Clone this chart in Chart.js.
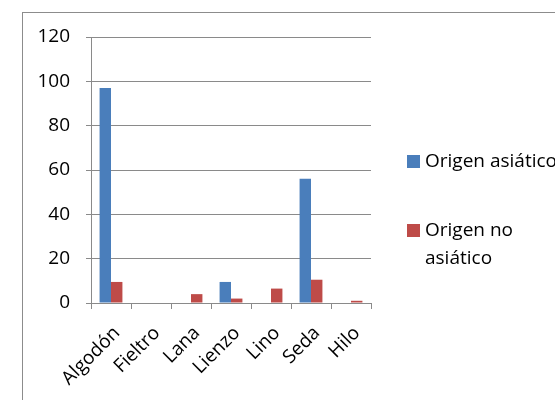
<!DOCTYPE html>
<html>
<head>
<meta charset="utf-8">
<script src="https://cdn.jsdelivr.net/npm/chart.js@4"></script>
<style>
    html, body { margin: 0; padding: 0; background: #fff; }
    body { width: 555px; height: 400px; position: relative; overflow: hidden; font-family: 'Open Sans', sans-serif; }
    #frame { position: absolute; left: 22px; top: 12px; width: 600px; height: 450px; border: 1px solid #8c8c8c; box-sizing: border-box; }
    #chart { position: absolute; left: 0; top: 0; }
    #legend { position: absolute; left: 407px; top: 146px; font-size: 19px; color: #000; }
    .legend-item { display: flex; align-items: flex-start; margin-bottom: 41px; }
    .legend-box { width: 13px; height: 13px; margin: 9px 5px 0 0; flex: none; }
    .legend-text { line-height: 28px; width: 118px; }
    .legend-item.nowrap .legend-text { white-space: nowrap; }
</style>
</head>
<body>
<div id="frame"></div>
<canvas id="chart" width="555" height="400"></canvas>
<div id="legend"></div>
<script>
// Fibras textiles por origen
const categories = ['Algodón', 'Fieltro', 'Lana', 'Lienzo', 'Lino', 'Seda', 'Hilo'];
const seriesNames = ['Origen asiático', 'Origen no asiático'];
const origenAsiatico = [97, 0, 0, 9.5, 0, 56, 0];
const origenNoAsiatico = [9.5, 0, 4, 2, 6.5, 10.5, 1];
const yTicks = [0, 20, 40, 60, 80, 100, 120];

const colors = ['#4a7ebb', '#be4b48'];
const axisGray = '#8a8a8a';
const font = { family: "'Open Sans', sans-serif", size: 19 };

// Build the HTML legend (Excel wraps the long label)
const legend = document.getElementById('legend');
seriesNames.forEach((name, i) => {
    const item = document.createElement('div');
    item.className = 'legend-item' + (i === 0 ? ' nowrap' : '');
    item.innerHTML = `<span class="legend-box" style="background:${colors[i]}"></span><span class="legend-text">${name}</span>`;
    legend.appendChild(item);
});

const ctx = document.getElementById('chart').getContext('2d');
new Chart(ctx, {
    type: 'bar',
    data: {
        labels: categories,
        datasets: [
            { label: seriesNames[0], data: origenAsiatico, backgroundColor: colors[0] },
            { label: seriesNames[1], data: origenNoAsiatico, backgroundColor: colors[1] }
        ]
    },
    options: {
        responsive: false,
        animation: false,
        layout: { padding: { left: 0, top: 37, right: 184, bottom: 0 } },
        datasets: { bar: { barPercentage: 1, categoryPercentage: 0.571 } },
        scales: {
            x: {
                grid: { drawOnChartArea: false, drawTicks: true, tickLength: 6, color: axisGray, offset: true },
                border: { color: axisGray },
                ticks: { color: '#000', font: font, minRotation: 45, maxRotation: 45, autoSkip: false, padding: 13, labelOffset: 6 },
                afterFit: (s) => { s.height = 97; }
            },
            y: {
                min: 0,
                max: 120,
                afterBuildTicks: (s) => { s.ticks = yTicks.map(v => ({ value: v })); },
                grid: { color: axisGray, tickLength: 5 },
                border: { color: axisGray },
                ticks: { color: '#000', font: font, padding: 16 },
                afterFit: (s) => { s.width = 91; }
            }
        },
        plugins: { legend: { display: false }, tooltip: { enabled: false } }
    }
});
</script>
</body>
</html>
